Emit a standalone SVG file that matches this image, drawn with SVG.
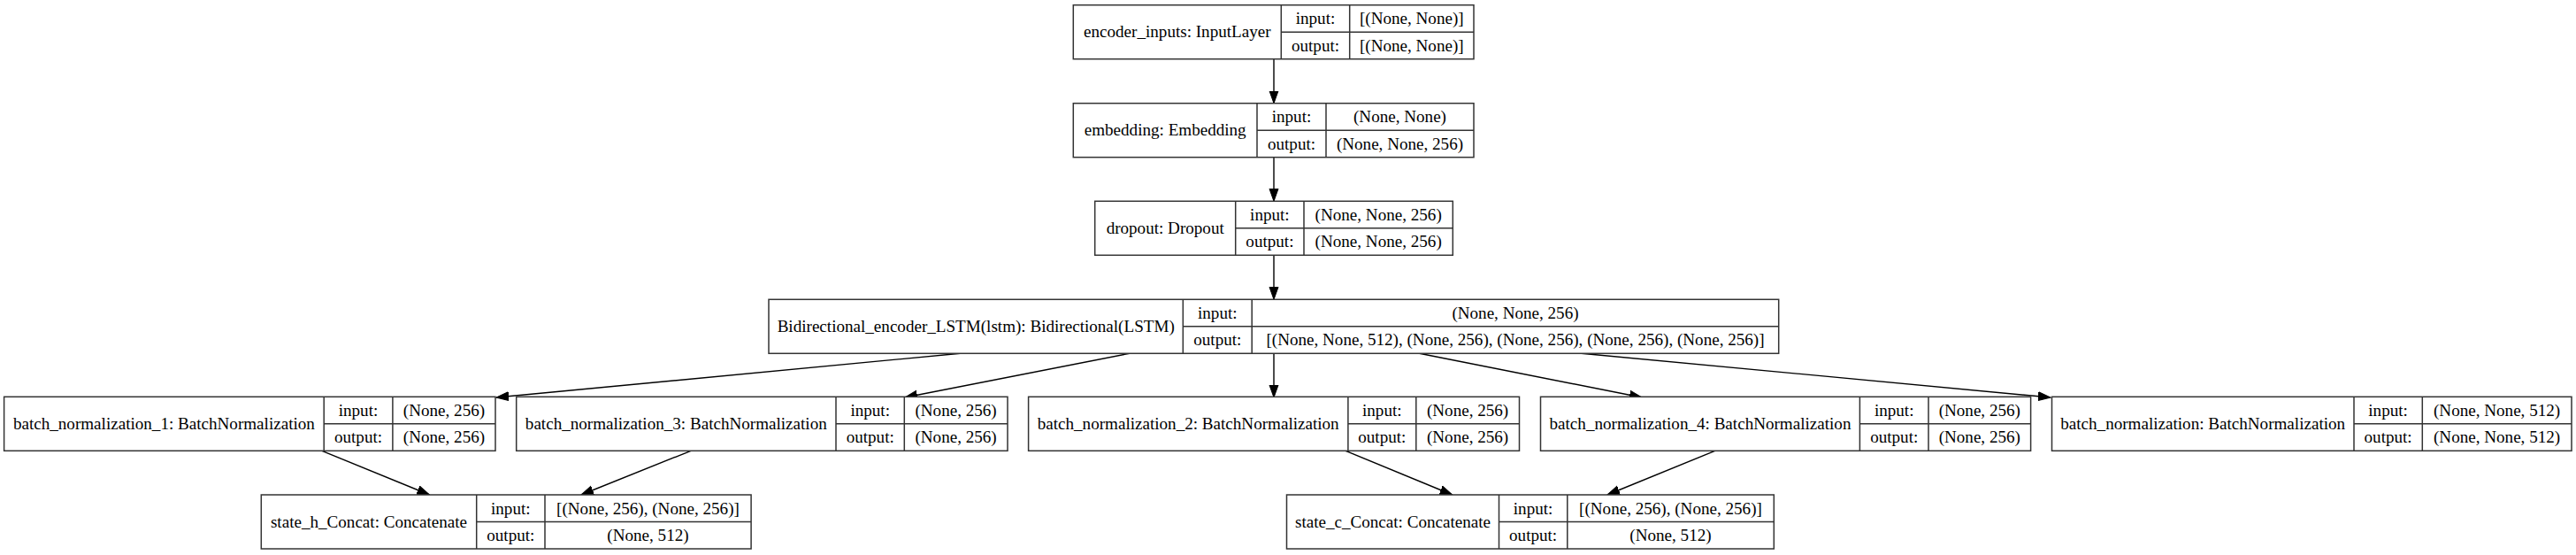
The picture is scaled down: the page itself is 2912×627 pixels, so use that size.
<svg xmlns="http://www.w3.org/2000/svg" width="2912" height="627" viewBox="0 0 2912 627">
<style>
.box{fill:#fff;stroke:#333;stroke-width:1.5}
.div{stroke:#333;stroke-width:1.5;fill:none}
text{font-family:"Liberation Serif","Times New Roman",serif;font-size:19.1px;fill:#000;text-anchor:middle}
.edge{stroke:#000;stroke-width:1.4;fill:none;marker-end:url(#arr)}
</style>
<defs>
<marker id="arr" markerUnits="userSpaceOnUse" markerWidth="16" markerHeight="12" refX="14" refY="5.5" orient="auto" viewBox="0 0 16 11">
<path d="M0,0.5 L14,5.5 L0,10.5 Z" fill="#000" stroke="#000" stroke-width="1"/>
</marker>
</defs>
<rect width="2912" height="627" fill="#fff"/>
<g id="connectors">
<line class="edge" x1="1440" y1="66.7" x2="1440" y2="116.7"/>
<line class="edge" x1="1440" y1="177.7" x2="1440" y2="227.3"/>
<line class="edge" x1="1440" y1="288.3" x2="1440" y2="338.3"/>
<line class="edge" x1="1088.3" y1="399" x2="561" y2="449"/>
<line class="edge" x1="1278.3" y1="399" x2="1023" y2="449"/>
<line class="edge" x1="1440" y1="399" x2="1440" y2="449"/>
<line class="edge" x1="1603.3" y1="399" x2="1856" y2="449"/>
<line class="edge" x1="1785" y1="399" x2="2318" y2="449"/>
<line class="edge" x1="364" y1="509.3" x2="485.5" y2="559"/>
<line class="edge" x1="781" y1="509.3" x2="657" y2="559"/>
<line class="edge" x1="1521" y1="509.3" x2="1641.7" y2="559"/>
<line class="edge" x1="1938.6" y1="509.3" x2="1817" y2="559"/>
</g>
<g id="encoder_inputs">
<rect class="box" x="1213.3" y="5.7" width="452.7" height="61"/>
<path class="div" d="M1448.3,5.7V66.7M1525.7,5.7V66.7M1448.3,36.2H1666"/>
<text x="1330.8" y="42.4">encoder_inputs: InputLayer</text>
<text x="1487" y="27.2">input:</text>
<text x="1487" y="57.7">output:</text>
<text x="1595.8" y="27.2">[(None, None)]</text>
<text x="1595.8" y="57.7">[(None, None)]</text>
</g>
<g id="embedding">
<rect class="box" x="1213.3" y="116.7" width="452.7" height="61"/>
<path class="div" d="M1421,116.7V177.7M1499,116.7V177.7M1421,147.2H1666"/>
<text x="1317.2" y="153.4">embedding: Embedding</text>
<text x="1460" y="138.2">input:</text>
<text x="1460" y="168.7">output:</text>
<text x="1582.5" y="138.2">(None, None)</text>
<text x="1582.5" y="168.7">(None, None, 256)</text>
</g>
<g id="dropout">
<rect class="box" x="1237.7" y="227.3" width="404.6" height="61"/>
<path class="div" d="M1396.7,227.3V288.3M1474,227.3V288.3M1396.7,257.8H1642.3"/>
<text x="1317.2" y="264">dropout: Dropout</text>
<text x="1435.4" y="248.8">input:</text>
<text x="1435.4" y="279.3">output:</text>
<text x="1558.2" y="248.8">(None, None, 256)</text>
<text x="1558.2" y="279.3">(None, None, 256)</text>
</g>
<g id="bidirectional">
<rect class="box" x="869" y="338.3" width="1141.7" height="61"/>
<path class="div" d="M1337.3,338.3V399.3M1415.2,338.3V399.3M1337.3,368.8H2010.7"/>
<text x="1103.2" y="375">Bidirectional_encoder_LSTM(lstm): Bidirectional(LSTM)</text>
<text x="1376.3" y="359.8">input:</text>
<text x="1376.3" y="390.3">output:</text>
<text x="1713" y="359.8">(None, None, 256)</text>
<text x="1713" y="390.3">[(None, None, 512), (None, 256), (None, 256), (None, 256), (None, 256)]</text>
</g>
<g id="batch_normalization_1">
<rect class="box" x="4.6" y="448.3" width="555.4" height="61"/>
<path class="div" d="M366.2,448.3V509.3M443.9,448.3V509.3M366.2,478.8H560"/>
<text x="185.4" y="485">batch_normalization_1: BatchNormalization</text>
<text x="405" y="469.8">input:</text>
<text x="405" y="500.3">output:</text>
<text x="502" y="469.8">(None, 256)</text>
<text x="502" y="500.3">(None, 256)</text>
</g>
<g id="batch_normalization_3">
<rect class="box" x="583.7" y="448.3" width="555.3" height="61"/>
<path class="div" d="M945,448.3V509.3M1022.3,448.3V509.3M945,478.8H1139"/>
<text x="764.3" y="485">batch_normalization_3: BatchNormalization</text>
<text x="983.7" y="469.8">input:</text>
<text x="983.7" y="500.3">output:</text>
<text x="1080.6" y="469.8">(None, 256)</text>
<text x="1080.6" y="500.3">(None, 256)</text>
</g>
<g id="batch_normalization_2">
<rect class="box" x="1162.6" y="448.3" width="554.9" height="61"/>
<path class="div" d="M1523.9,448.3V509.3M1600.8,448.3V509.3M1523.9,478.8H1717.5"/>
<text x="1343.2" y="485">batch_normalization_2: BatchNormalization</text>
<text x="1562.3" y="469.8">input:</text>
<text x="1562.3" y="500.3">output:</text>
<text x="1659.1" y="469.8">(None, 256)</text>
<text x="1659.1" y="500.3">(None, 256)</text>
</g>
<g id="batch_normalization_4">
<rect class="box" x="1741.5" y="448.3" width="554.1" height="61"/>
<path class="div" d="M2102.4,448.3V509.3M2180,448.3V509.3M2102.4,478.8H2295.6"/>
<text x="1922" y="485">batch_normalization_4: BatchNormalization</text>
<text x="2141.2" y="469.8">input:</text>
<text x="2141.2" y="500.3">output:</text>
<text x="2237.8" y="469.8">(None, 256)</text>
<text x="2237.8" y="500.3">(None, 256)</text>
</g>
<g id="batch_normalization">
<rect class="box" x="2319.5" y="448.3" width="587.5" height="61"/>
<path class="div" d="M2661,448.3V509.3M2738.3,448.3V509.3M2661,478.8H2907"/>
<text x="2490.2" y="485">batch_normalization: BatchNormalization</text>
<text x="2699.6" y="469.8">input:</text>
<text x="2699.6" y="500.3">output:</text>
<text x="2822.6" y="469.8">(None, None, 512)</text>
<text x="2822.6" y="500.3">(None, None, 512)</text>
</g>
<g id="state_h_Concat">
<rect class="box" x="295.3" y="559" width="553.8" height="61"/>
<path class="div" d="M538.7,559V620M616,559V620M538.7,589.5H849.1"/>
<text x="417" y="595.7">state_h_Concat: Concatenate</text>
<text x="577.3" y="580.5">input:</text>
<text x="577.3" y="611">output:</text>
<text x="732.5" y="580.5">[(None, 256), (None, 256)]</text>
<text x="732.5" y="611">(None, 512)</text>
</g>
<g id="state_c_Concat">
<rect class="box" x="1454.5" y="559" width="550.8" height="61"/>
<path class="div" d="M1694.5,559V620M1771.8,559V620M1694.5,589.5H2005.3"/>
<text x="1574.5" y="595.7">state_c_Concat: Concatenate</text>
<text x="1733.1" y="580.5">input:</text>
<text x="1733.1" y="611">output:</text>
<text x="1888.5" y="580.5">[(None, 256), (None, 256)]</text>
<text x="1888.5" y="611">(None, 512)</text>
</g>
</svg>
